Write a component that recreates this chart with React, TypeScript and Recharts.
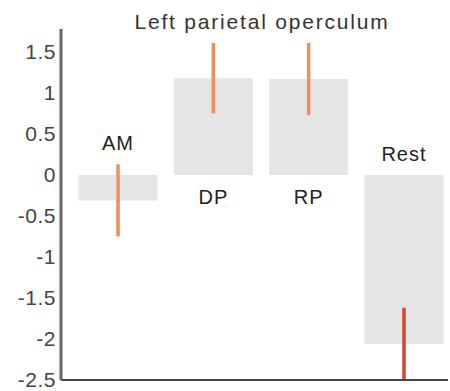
import { BarChart, Bar, XAxis, YAxis, ErrorBar, LabelList } from 'recharts';

const regions = ['AM', 'DP', 'RP', 'Rest'];
const positions = [1, 2, 3, 4];
const means = [-0.31, 1.18, 1.17, -2.06];
const errors = [0.44, 0.43, 0.44, 0.44];
// the last error bar is drawn in a redder tone
const errorTone = ['a', 'a', 'a', 'b'];
const yTicks = [-2.5, -2, -1.5, -1, -0.5, 0, 0.5, 1, 1.5];
const xTicks = [1.98, 3.2, 4.43];
const TITLE = 'Left parietal operculum';

const FONT = '"Liberation Sans", Arial, sans-serif';
const BAR_FILL = '#e5e5e5';
const ERR_A = '#ec8f5c';
const ERR_B = '#d9432f';

const data = regions.map((name, i) => ({
  name,
  x: positions[i],
  mean: means[i],
  errA: errorTone[i] === 'a' ? errors[i] : undefined,
  errB: errorTone[i] === 'b' ? errors[i] : undefined,
}));

function RegionLabel(props: any) {
  const { x, y, width, height, index } = props;
  const v = means[index];
  const top = Math.min(y, y + height);
  const bottom = Math.max(y, y + height);
  const pxPerUnit = Math.abs(height) / Math.abs(v);
  const cx = x + width / 2;
  let cy;
  if (v >= 0) {
    cy = bottom + 22;
  } else {
    const hi = v + errors[index];
    cy = top - 21 - Math.max(0, hi) * pxPerUnit;
  }
  return (
    <text
      x={cx}
      y={cy}
      textAnchor="middle"
      dominantBaseline="central"
      fontFamily={FONT}
      fontSize={20}
      letterSpacing={1}
      fill="#222"
    >
      {regions[index]}
    </text>
  );
}

export default function App() {
  return (
    <div style={{ position: 'absolute', left: 0, top: 0, width: 450, height: 391 }}>
      <BarChart
        width={450}
        height={391}
        data={data}
        margin={{ top: 29, right: 2, left: 3, bottom: 1 }}
      >
        <XAxis
          dataKey="x"
          type="number"
          domain={[0.4, 4.46]}
          ticks={xTicks}
          interval={0}
          tick={false}
          tickSize={3}
          axisLine={{ stroke: '#444', strokeWidth: 2 }}
          tickLine={{ stroke: '#111', strokeWidth: 2 }}
          height={10}
          allowDataOverflow
        />
        <YAxis
          domain={[-2.5, 1.78]}
          ticks={yTicks}
          interval={0}
          allowDataOverflow
          width={58}
          tickLine={false}
          tickSize={2}
          tickMargin={3}
          axisLine={{ stroke: '#666', strokeWidth: 3 }}
          tick={{ fontSize: 21, fill: '#444', fontFamily: FONT, letterSpacing: 0.5 }}
        />
        <Bar dataKey="mean" fill={BAR_FILL} barSize={79} isAnimationActive={false}>
          <ErrorBar dataKey="errA" width={0} stroke={ERR_A} strokeWidth={3.5} direction="y" />
          <ErrorBar dataKey="errB" width={0} stroke={ERR_B} strokeWidth={3.5} direction="y" />
          <LabelList dataKey="name" content={<RegionLabel />} />
        </Bar>
      </BarChart>
      <svg
        width={450}
        height={40}
        style={{ position: 'absolute', left: 0, top: 0, pointerEvents: 'none' }}
      >
        <text
          x={262}
          y={29}
          textAnchor="middle"
          fontFamily={FONT}
          fontSize={21}
          letterSpacing={1.8}
          fill="#333"
        >
          {TITLE}
        </text>
      </svg>
    </div>
  );
}
